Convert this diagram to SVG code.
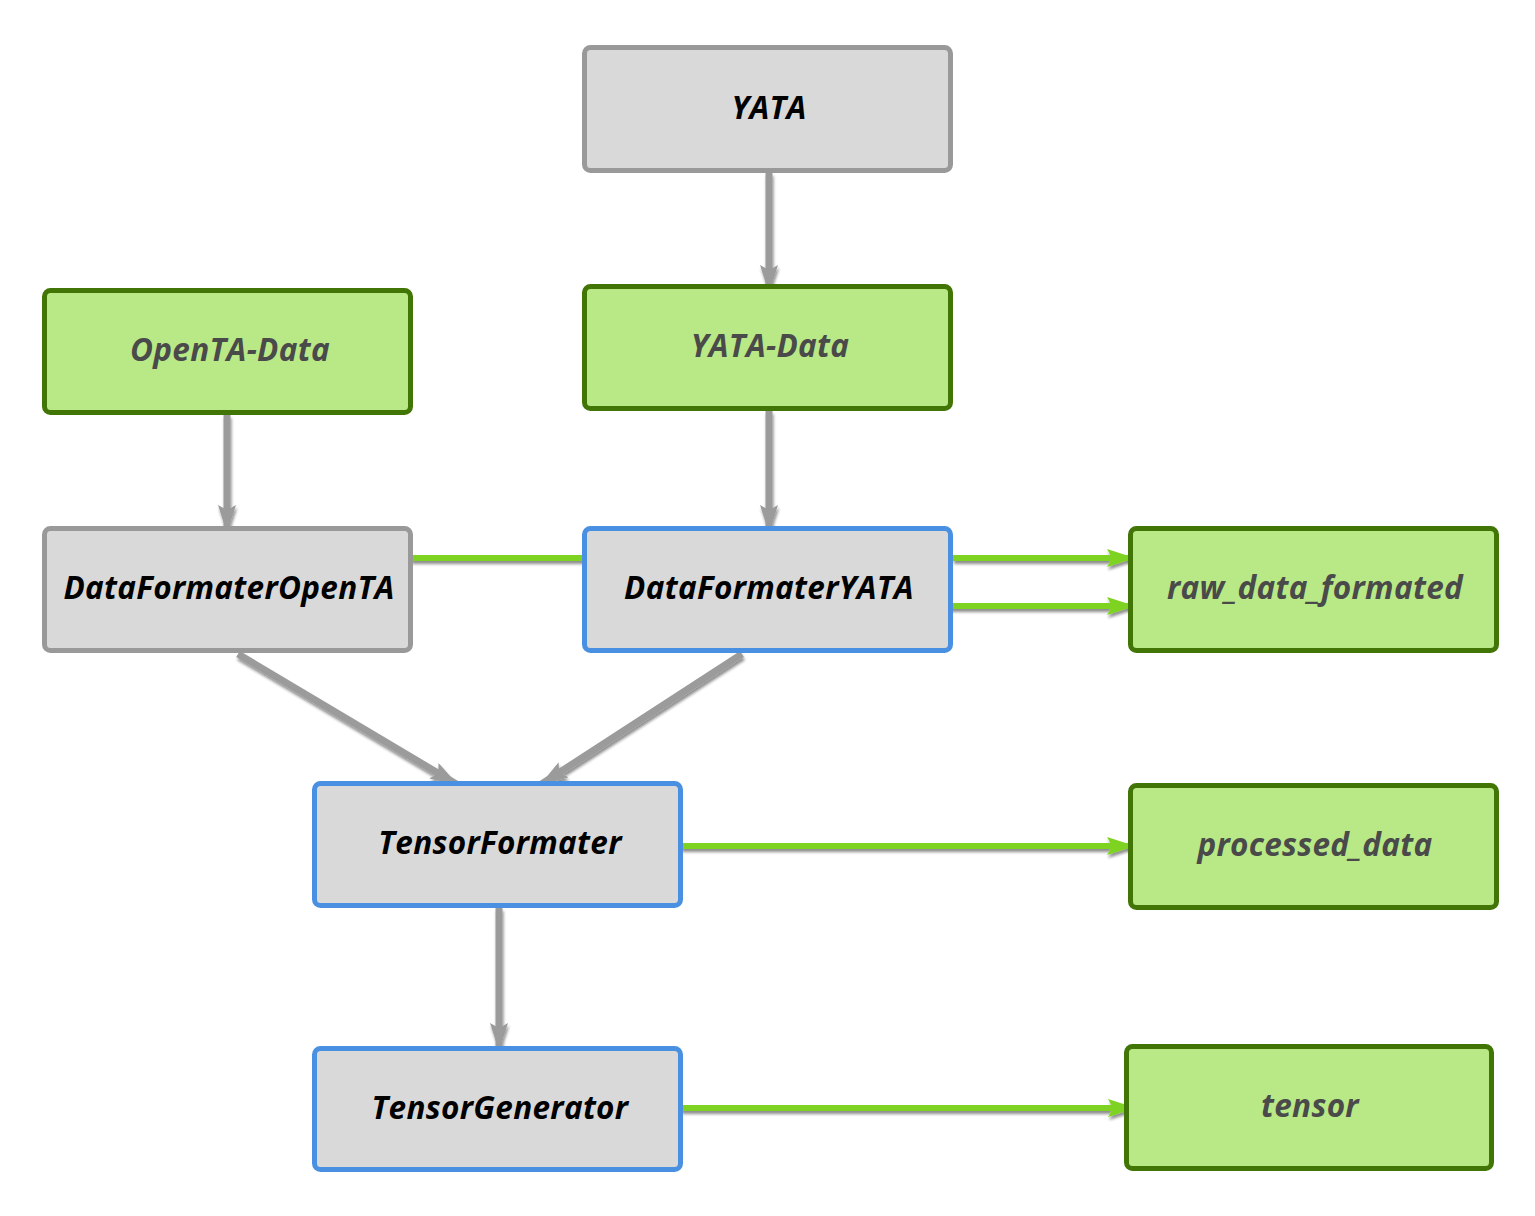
<svg xmlns="http://www.w3.org/2000/svg" width="1535" height="1216" viewBox="0 0 1535 1216">
<style>
.box{stroke-width:5}
.gray{fill:#d9d9d9;stroke:#999999}
.blue{fill:#d9d9d9;stroke:#4a90e2}
.green{fill:#b8e986;stroke:#417505}
.t{font-family:"Open Sans","DejaVu Sans",sans-serif;font-weight:bold;font-style:italic;font-size:31.5px;letter-spacing:0.3px;text-anchor:middle;dominant-baseline:central}
.tk{fill:#000000}
.tg{fill:#4a4a4a}
.cg{stroke:#9b9b9b;stroke-width:7;fill:none}
.cgr{stroke:#7ed321;stroke-width:6;fill:none}
</style>
<defs>
<filter id="sh" x="-10%" y="-10%" width="120%" height="120%">
<feGaussianBlur in="SourceAlpha" stdDeviation="1.5"/>
<feOffset dx="1" dy="3" result="b"/>
<feComponentTransfer><feFuncA type="linear" slope="0.45"/></feComponentTransfer>
<feMerge><feMergeNode/><feMergeNode in="SourceGraphic"/></feMerge>
</filter>
<marker id="ag" markerUnits="userSpaceOnUse" markerWidth="32" markerHeight="20" refX="28" refY="9" orient="auto">
<path d="M0,0 L28,9 L0,18 L5,9 Z" fill="#9b9b9b"/>
</marker>
<marker id="agr" markerUnits="userSpaceOnUse" markerWidth="32" markerHeight="20" refX="28" refY="9" orient="auto">
<path d="M0,0 L28,9 L0,18 L5,9 Z" fill="#7ed321"/>
</marker>
</defs>
<g id="connectors" filter="url(#sh)">
<line class="cg" x1="769" y1="173" x2="769" y2="293" marker-end="url(#ag)"/>
<line class="cg" x1="227" y1="415" x2="227" y2="533" marker-end="url(#ag)"/>
<line class="cg" x1="769" y1="411" x2="769" y2="533" marker-end="url(#ag)"/>
<line class="cgr" x1="411" y1="558" x2="584" y2="558"/>
<line class="cgr" x1="953" y1="558" x2="1135" y2="558" marker-end="url(#agr)"/>
<line class="cgr" x1="949" y1="606" x2="1135" y2="606" marker-end="url(#agr)"/>
<line class="cg" x1="238" y1="654" x2="458" y2="785" marker-end="url(#ag)"/>
<line class="cg" x1="742" y1="654" x2="540" y2="785" marker-end="url(#ag)"/>
<line class="cgr" x1="681" y1="846" x2="1135" y2="846" marker-end="url(#agr)"/>
<line class="cg" x1="499" y1="908" x2="499" y2="1051" marker-end="url(#ag)"/>
<line class="cgr" x1="681" y1="1108" x2="1136" y2="1108" marker-end="url(#agr)"/>
</g>
<g id="yata"><rect class="box gray" x="584.5" y="47.5" width="366" height="123" rx="6"/><text class="t tk" x="769" y="106">YATA</text></g>
<g id="openta-data"><rect class="box green" x="44.5" y="290.5" width="366" height="122" rx="6"/><text class="t tg" x="230" y="348">OpenTA-Data</text></g>
<g id="yata-data"><rect class="box green" x="584.5" y="286.5" width="366" height="122" rx="6"/><text class="t tg" x="770" y="344">YATA-Data</text></g>
<g id="dataformateropenta"><rect class="box gray" x="44.5" y="528.5" width="366" height="122" rx="6"/><text class="t tk" x="229" y="586">DataFormaterOpenTA</text></g>
<g id="dataformateryata"><rect class="box blue" x="584.5" y="528.5" width="366" height="122" rx="6"/><text class="t tk" x="769" y="586">DataFormaterYATA</text></g>
<g id="raw_data_formated"><rect class="box green" x="1130.5" y="528.5" width="366" height="122" rx="6"/><text class="t tg" x="1315" y="586">raw_data_formated</text></g>
<g id="tensorformater"><rect class="box blue" x="314.5" y="783.5" width="366" height="122" rx="6"/><text class="t tk" x="500" y="841">TensorFormater</text></g>
<g id="processed_data"><rect class="box green" x="1130.5" y="785.5" width="366" height="122" rx="6"/><text class="t tg" x="1315" y="843">processed_data</text></g>
<g id="tensorgenerator"><rect class="box blue" x="314.5" y="1048.5" width="366" height="121" rx="6"/><text class="t tk" x="500" y="1106">TensorGenerator</text></g>
<g id="tensor"><rect class="box green" x="1126.5" y="1046.5" width="365" height="122" rx="6"/><text class="t tg" x="1310" y="1104">tensor</text></g>
</svg>
